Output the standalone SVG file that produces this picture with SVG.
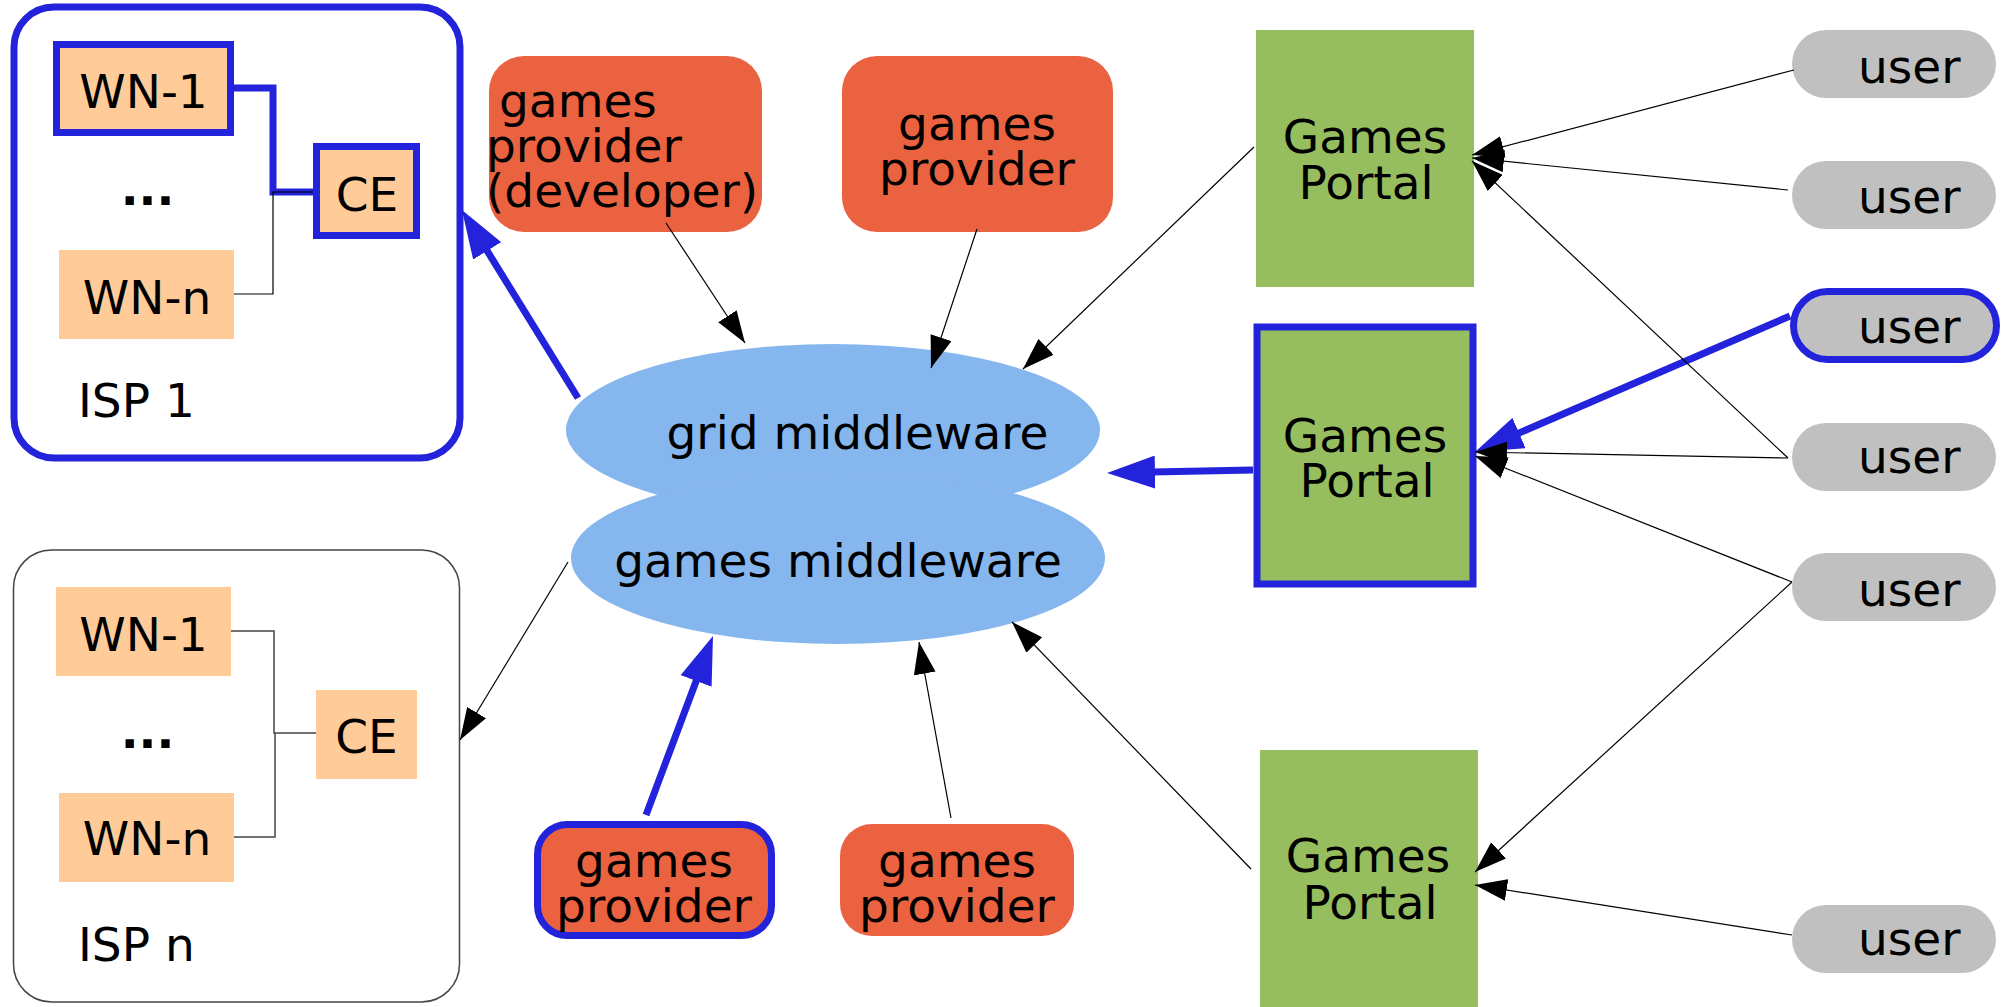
<svg xmlns="http://www.w3.org/2000/svg" width="2013" height="1007" viewBox="0 0 2013 1007">
<style>
text{font-family:"DejaVu Sans","Liberation Sans",sans-serif;font-size:47px;fill:#000}
.m{text-anchor:middle}
.dots{font-weight:bold;text-anchor:middle}
.isp{fill:#fff}
.wn{fill:#FFCC99}
.bl{stroke:#2323DB;stroke-width:7}
.prov{fill:#EB6240}
.portal{fill:#96BE5E}
.user{fill:#C0C0C0}
.mw{fill:#86B6EE}
.thin{stroke:#000;stroke-width:1.2;fill:none}
.thick{stroke:#2323DB;stroke-width:7;fill:none}
</style>
<defs>
<marker id="ah" markerUnits="userSpaceOnUse" markerWidth="32" markerHeight="22" refX="32" refY="11" orient="auto" viewBox="0 0 32 22">
<path d="M0,0 L32,11 L0,22 z" fill="#000"/>
</marker>
<marker id="ahb" markerUnits="userSpaceOnUse" markerWidth="48" markerHeight="33" refX="3" refY="16.5" orient="auto" viewBox="0 0 48 33">
<path d="M0,0 L48,16.5 L0,33 z" fill="#2323DB"/>
</marker>
</defs>
<rect width="2013" height="1007" fill="#fff"/>

<g id="isp1">
<rect class="isp bl" x="14" y="7" width="446" height="451" rx="40"/>
<text x="78" y="417">ISP 1</text>
</g>
<g id="isp1-wn1">
<rect class="wn bl" x="56.5" y="44.5" width="174" height="88"/>
<text class="m" x="143.5" y="108">WN-1</text>
</g>
<g id="isp1-dots"><text class="dots" x="147.5" y="205">...</text></g>
<g id="isp1-wnn">
<rect class="wn" x="59" y="250" width="175" height="89"/>
<text class="m" x="147" y="314">WN-n</text>
</g>
<g id="isp1-ce">
<rect class="wn bl" x="316.5" y="146.5" width="100" height="89"/>
<text class="m" x="367" y="211">CE</text>
</g>

<g id="ispn">
<rect class="isp" x="13.5" y="550" width="446" height="452" rx="38" stroke="#444" stroke-width="1.5"/>
<text x="78" y="961">ISP n</text>
</g>
<g id="ispn-wn1">
<rect class="wn" x="56" y="587" width="175" height="89"/>
<text class="m" x="143.5" y="651">WN-1</text>
</g>
<g id="ispn-dots"><text class="dots" x="147.5" y="748">...</text></g>
<g id="ispn-wnn">
<rect class="wn" x="59" y="793" width="175" height="89"/>
<text class="m" x="147" y="855">WN-n</text>
</g>
<g id="ispn-ce">
<rect class="wn" x="316" y="690" width="101" height="89"/>
<text class="m" x="366.5" y="753">CE</text>
</g>

<g id="provider-dev">
<rect class="prov" x="489" y="56" width="273" height="176" rx="35"/>
<text x="499" y="117">games</text>
<text x="486" y="162">provider</text>
<text x="486" y="207">(developer)</text>
</g>
<g id="provider-2">
<rect class="prov" x="842" y="56" width="271" height="176" rx="35"/>
<text class="m" x="977" y="140">games</text>
<text class="m" x="977" y="185">provider</text>
</g>
<g id="provider-3">
<rect class="prov bl" x="537.5" y="824.5" width="234" height="111" rx="30"/>
<text class="m" x="654" y="877">games</text>
<text class="m" x="654" y="922">provider</text>
</g>
<g id="provider-4">
<rect class="prov" x="840" y="824" width="234" height="112" rx="32"/>
<text class="m" x="957" y="877">games</text>
<text class="m" x="957" y="922">provider</text>
</g>

<g id="middleware">
<ellipse class="mw" cx="833" cy="430" rx="267" ry="86"/>
<ellipse class="mw" cx="838" cy="558" rx="267" ry="86"/>
<text class="m" x="857.5" y="449">grid middleware</text>
<text class="m" x="838" y="577">games middleware</text>
</g>

<g id="portal-1">
<rect class="portal" x="1256" y="30" width="218" height="257"/>
<text class="m" x="1365" y="153">Games</text>
<text class="m" x="1366" y="199">Portal</text>
</g>
<g id="portal-2">
<rect class="portal bl" x="1257" y="327" width="216" height="257"/>
<text class="m" x="1365" y="452">Games</text>
<text class="m" x="1367" y="497">Portal</text>
</g>
<g id="portal-3">
<rect class="portal" x="1260" y="750" width="218" height="262"/>
<text class="m" x="1368" y="872">Games</text>
<text class="m" x="1370" y="919">Portal</text>
</g>

<g id="user-1"><rect class="user" x="1792" y="30" width="204" height="68" rx="34"/><text x="1858" y="83">user</text></g>
<g id="user-2"><rect class="user" x="1792" y="161" width="204" height="68" rx="34"/><text x="1858" y="213">user</text></g>
<g id="user-3"><rect class="user bl" x="1793.5" y="291.5" width="203" height="68" rx="34"/><text x="1858" y="343">user</text></g>
<g id="user-4"><rect class="user" x="1792" y="423" width="204" height="68" rx="34"/><text x="1858" y="473">user</text></g>
<g id="user-5"><rect class="user" x="1792" y="553" width="204" height="68" rx="34"/><text x="1858" y="606">user</text></g>
<g id="user-6"><rect class="user" x="1792" y="905" width="204" height="68" rx="34"/><text x="1858" y="955">user</text></g>

<g id="connectors">
<path class="thick" d="M234,88 H273 V192 H313"/>
<path class="thin" d="M313,192 H273 V294 H234"/>
<path d="M231,631 H274 V733 H316 M275,733 V837 H234" fill="none" stroke="#444" stroke-width="1.5"/>

<line class="thick" x1="578" y1="398" x2="485.6" y2="248.3" marker-end="url(#ahb)"/>
<line class="thick" x1="1253" y1="470" x2="1152" y2="472.1" marker-end="url(#ahb)"/>
<line class="thick" x1="1790" y1="316" x2="1516.3" y2="434.2" marker-end="url(#ahb)"/>
<line class="thick" x1="646" y1="815" x2="697.2" y2="678.2" marker-end="url(#ahb)"/>

<line class="thin" x1="666" y1="223" x2="745" y2="343" marker-end="url(#ah)"/>
<line class="thin" x1="977" y1="229" x2="931" y2="368" marker-end="url(#ah)"/>
<line class="thin" x1="1254" y1="147" x2="1023" y2="369" marker-end="url(#ah)"/>
<line class="thin" x1="568" y1="562" x2="460" y2="740" marker-end="url(#ah)"/>
<line class="thin" x1="951" y1="818" x2="919" y2="642" marker-end="url(#ah)"/>
<line class="thin" x1="1251" y1="869" x2="1012" y2="622" marker-end="url(#ah)"/>
<line class="thin" x1="1794" y1="70" x2="1472" y2="155" marker-end="url(#ah)"/>
<line class="thin" x1="1788" y1="190" x2="1472" y2="158" marker-end="url(#ah)"/>
<line class="thin" x1="1788" y1="458" x2="1472" y2="161" marker-end="url(#ah)"/>
<line class="thin" x1="1788" y1="458" x2="1475" y2="452" marker-end="url(#ah)"/>
<line class="thin" x1="1792" y1="582" x2="1475" y2="456" marker-end="url(#ah)"/>
<line class="thin" x1="1792" y1="582" x2="1475" y2="872" marker-end="url(#ah)"/>
<line class="thin" x1="1792" y1="935" x2="1475" y2="885" marker-end="url(#ah)"/>
</g>
</svg>
